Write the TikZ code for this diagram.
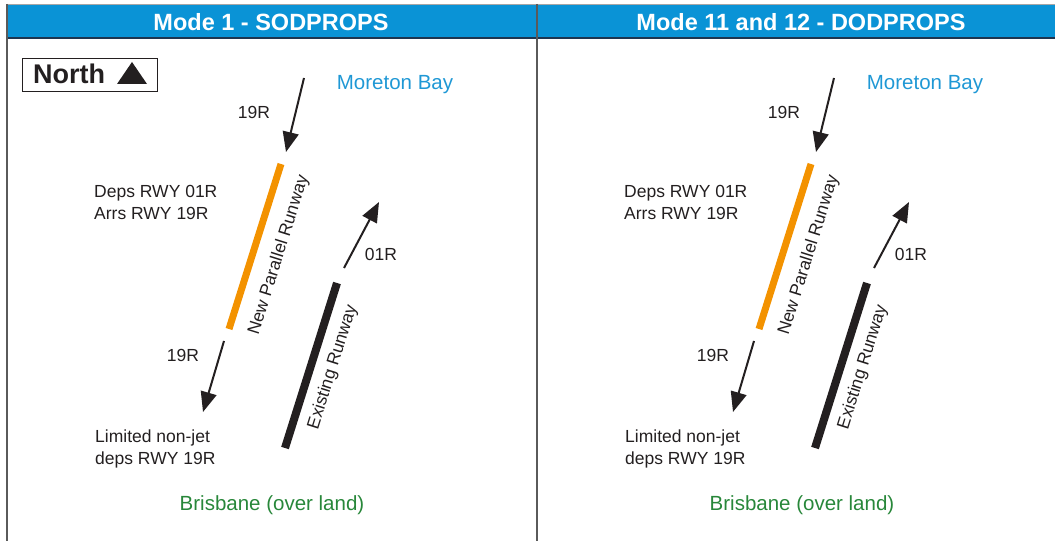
\documentclass[tikz,border=0pt]{standalone}
\usepackage{fontspec}
\setmainfont{Liberation Sans}
\usetikzlibrary{arrows.meta}
\definecolor{hdrblue}{HTML}{0A93D6}
\definecolor{navy}{HTML}{1D3550}
\definecolor{bayblue}{HTML}{1F98D5}
\definecolor{landgreen}{HTML}{28873A}
\definecolor{rwyorange}{HTML}{F39200}
\definecolor{txtgray}{HTML}{231F20}
\definecolor{framegray}{HTML}{5A5A5A}
\tikzset{
  lbl/.style={inner sep=0pt, text=txtgray, font=\fontsize{17.5bp}{22bp}\selectfont},
  multi/.style={lbl, align=left, anchor=base west},
  place/.style={inner sep=0pt, font=\fontsize{20.5bp}{24bp}\selectfont},
  hdr/.style={inner sep=0pt, text=white, font=\bfseries\fontsize{23.5bp}{26bp}\selectfont},
  flight/.style={line width=2bp, draw=txtgray, -{Triangle[length=20bp,width=16bp]}},
  rwy/.style={line width=7bp},
}
\newcommand{\drawpanel}{%
  \coordinate (a1s) at (304,78);  \coordinate (a1e) at (286,152);
  \coordinate (o1) at (281,164);  \coordinate (o2) at (229,329);
  \coordinate (b1) at (337,283);  \coordinate (b2) at (285,448);
  \coordinate (a2s) at (344,268); \coordinate (a2e) at (379,202);
  \coordinate (a3s) at (224,341); \coordinate (a3e) at (203,412);
  \draw[rwy, draw=rwyorange] (o1) -- (o2);
  \draw[rwy, line width=8bp, draw=txtgray] (b1) -- (b2);
  \draw[flight] (a1s) -- (a1e);
  \draw[flight] (a2s) -- (a2e);
  \draw[flight] (a3s) -- (a3e);
  \node[lbl] (t19a) at (254,112) {19R};
  \node[place, text=bayblue] (bay) at (395,85) {Moreton Bay};
  \node[multi] (deps) at (94,220) {Deps RWY 01R\\Arrs RWY 19R};
  \node[lbl, rotate=72.6] (npr) at (279,255) {New Parallel Runway};
  \node[lbl] (t01) at (381,254) {01R};
  \node[lbl] (t19b) at (183,355) {19R};
  \node[multi] (lim) at (95,464) {Limited non-jet\\deps RWY 19R};
  \node[lbl, rotate=72.5] (exr) at (333,367) {Existing Runway};
  \node[place, text=landgreen] (bne) at (272,505) {Brisbane (over land)};
}
\begin{document}
\begin{tikzpicture}[x=1bp, y=-1bp]
  \useasboundingbox (0,0) rectangle (1055,541);
  % header band
  \fill[hdrblue] (7,5) rectangle (1055,38);
  \draw[gray!70, line width=1bp] (7,4.5) -- (1055,4.5);
  \draw[navy, line width=1.5bp] (7,38) -- (1055,38);
  \draw[framegray, line width=1.8bp] (7,4) -- (7,541);
  \draw[framegray, line width=1.8bp] (537,4) -- (537,541);
  \node[hdr] (h1) at (271,22) {Mode 1 - SODPROPS};
  \node[hdr] (h2) at (801,22) {Mode 11 and 12 - DODPROPS};
  % north box
  \node[draw=txtgray, line width=0.8bp, minimum width=135bp, minimum height=33bp,
        inner sep=0pt] (north) at (89.5,74.5) {};
  \node[inner sep=0pt, anchor=base west, text=txtgray,
        font=\bfseries\fontsize{27bp}{28bp}\selectfont] (northtxt) at (33,84) {North};
  \fill[txtgray] (117,84) -- (147,84) -- (132,62) -- cycle;
  \begin{scope}[name prefix=L-]
    \drawpanel
  \end{scope}
  \begin{scope}[xshift=530bp, name prefix=R-]
    \drawpanel
  \end{scope}
\end{tikzpicture}
\end{document}
